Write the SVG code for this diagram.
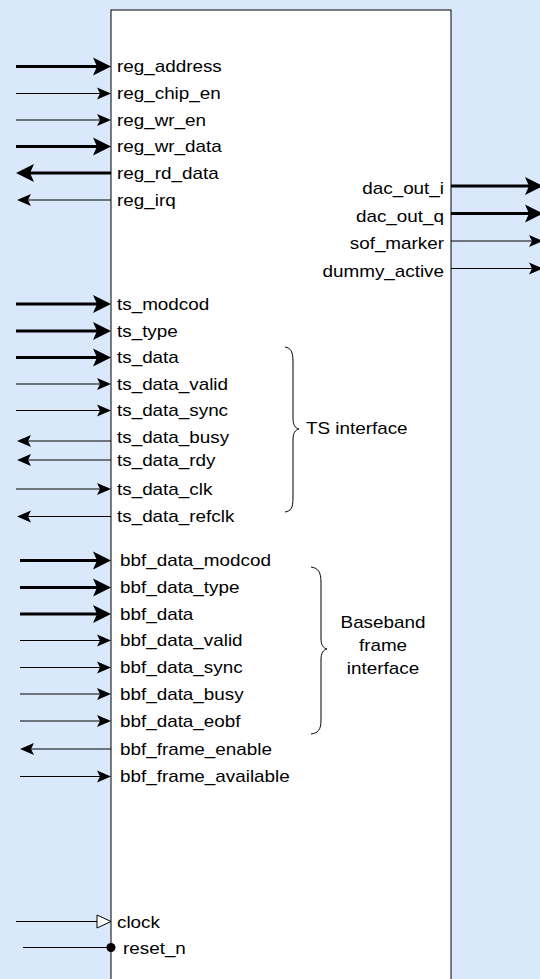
<svg xmlns="http://www.w3.org/2000/svg" width="540" height="979" viewBox="0 0 540 979">
<style>
text{font-family:"Liberation Sans",Arial,sans-serif;font-size:16.4px;fill:#000}
.r{text-anchor:end}
.m{text-anchor:middle}
.thick{stroke:#000;stroke-width:3;fill:none}
.thin{stroke:#000;stroke-width:1;fill:none}
.brace{stroke:#000;stroke-width:1;fill:none}
</style>
<defs>
<marker id="big" markerUnits="userSpaceOnUse" viewBox="-6 -10 22 20" refX="0" refY="0" markerWidth="22" markerHeight="20" orient="auto" overflow="visible">
<path d="M14,0 L-4,-9 L0,0 L-4,9 Z" fill="#000"/>
</marker>
<marker id="small" markerUnits="userSpaceOnUse" viewBox="-6 -8 18 16" refX="0" refY="0" markerWidth="18" markerHeight="16" orient="auto" overflow="visible">
<path d="M11,0 L-3,-6 L0,0 L-3,6 Z" fill="#000"/>
</marker>
</defs>
<rect x="0" y="0" width="540" height="979" fill="#dae8fc"/>
<g id="block">
<rect x="111" y="10" width="340" height="990" fill="#fff" stroke="#000" stroke-width="1"/>
<g id="labels-left">
<text transform="translate(117,72) scale(1.15,1)">reg_address</text>
<text transform="translate(117,99) scale(1.15,1)">reg_chip_en</text>
<text transform="translate(117,125.5) scale(1.15,1)">reg_wr_en</text>
<text transform="translate(117,152) scale(1.15,1)">reg_wr_data</text>
<text transform="translate(117,178.5) scale(1.15,1)">reg_rd_data</text>
<text transform="translate(117,205.5) scale(1.15,1)">reg_irq</text>
<text transform="translate(117,309.5) scale(1.15,1)">ts_modcod</text>
<text transform="translate(117,336.5) scale(1.15,1)">ts_type</text>
<text transform="translate(117,363) scale(1.15,1)">ts_data</text>
<text transform="translate(117,389.5) scale(1.15,1)">ts_data_valid</text>
<text transform="translate(117,416) scale(1.15,1)">ts_data_sync</text>
<text transform="translate(117,443) scale(1.15,1)">ts_data_busy</text>
<text transform="translate(117,465.5) scale(1.15,1)">ts_data_rdy</text>
<text transform="translate(117,494.5) scale(1.15,1)">ts_data_clk</text>
<text transform="translate(117,522) scale(1.15,1)">ts_data_refclk</text>
<text transform="translate(120,566) scale(1.15,1)">bbf_data_modcod</text>
<text transform="translate(120,593) scale(1.15,1)">bbf_data_type</text>
<text transform="translate(120,619.5) scale(1.15,1)">bbf_data</text>
<text transform="translate(120,646) scale(1.15,1)">bbf_data_valid</text>
<text transform="translate(120,673) scale(1.15,1)">bbf_data_sync</text>
<text transform="translate(120,699.5) scale(1.15,1)">bbf_data_busy</text>
<text transform="translate(120,726.5) scale(1.15,1)">bbf_data_eobf</text>
<text transform="translate(120,754.5) scale(1.15,1)">bbf_frame_enable</text>
<text transform="translate(120,782) scale(1.15,1)">bbf_frame_available</text>
<text transform="translate(117,928) scale(1.15,1)">clock</text>
<text transform="translate(123,954) scale(1.15,1)">reset_n</text>
</g>
<g id="labels-right">
<text class="r" transform="translate(444,194) scale(1.15,1)">dac_out_i</text>
<text class="r" transform="translate(444,221.5) scale(1.15,1)">dac_out_q</text>
<text class="r" transform="translate(444,249) scale(1.15,1)">sof_marker</text>
<text class="r" transform="translate(444,276.5) scale(1.15,1)">dummy_active</text>
</g>
</g>
<g id="connectors">
<line class="thick" x1="16" y1="66.5" x2="97" y2="66.5" marker-end="url(#big)"/>
<line class="thin" x1="16" y1="93.5" x2="100" y2="93.5" marker-end="url(#small)"/>
<line class="thin" x1="16" y1="120" x2="100" y2="120" marker-end="url(#small)"/>
<line class="thick" x1="16" y1="146.5" x2="97" y2="146.5" marker-end="url(#big)"/>
<line class="thick" x1="111" y1="173" x2="30" y2="173" marker-end="url(#big)"/>
<line class="thin" x1="111" y1="200" x2="28" y2="200" marker-end="url(#small)"/>
<line class="thick" x1="451" y1="186" x2="529" y2="186" marker-end="url(#big)"/>
<line class="thick" x1="451" y1="213.5" x2="529" y2="213.5" marker-end="url(#big)"/>
<line class="thin" x1="451" y1="241" x2="532" y2="241" marker-end="url(#small)"/>
<line class="thin" x1="451" y1="268.5" x2="532" y2="268.5" marker-end="url(#small)"/>
<line class="thick" x1="16" y1="304" x2="97" y2="304" marker-end="url(#big)"/>
<line class="thick" x1="16" y1="331" x2="97" y2="331" marker-end="url(#big)"/>
<line class="thick" x1="16" y1="357.5" x2="97" y2="357.5" marker-end="url(#big)"/>
<line class="thin" x1="16" y1="384" x2="100" y2="384" marker-end="url(#small)"/>
<line class="thin" x1="16" y1="410.5" x2="100" y2="410.5" marker-end="url(#small)"/>
<line class="thin" x1="111" y1="441" x2="28" y2="441" marker-end="url(#small)"/>
<line class="thin" x1="111" y1="460" x2="28" y2="460" marker-end="url(#small)"/>
<line class="thin" x1="16" y1="489" x2="100" y2="489" marker-end="url(#small)"/>
<line class="thin" x1="111" y1="516.5" x2="28" y2="516.5" marker-end="url(#small)"/>
<line class="thick" x1="20" y1="560.5" x2="97" y2="560.5" marker-end="url(#big)"/>
<line class="thick" x1="20" y1="587.5" x2="97" y2="587.5" marker-end="url(#big)"/>
<line class="thick" x1="20" y1="614" x2="97" y2="614" marker-end="url(#big)"/>
<line class="thin" x1="20" y1="640.5" x2="100" y2="640.5" marker-end="url(#small)"/>
<line class="thin" x1="20" y1="667.5" x2="100" y2="667.5" marker-end="url(#small)"/>
<line class="thin" x1="20" y1="694" x2="100" y2="694" marker-end="url(#small)"/>
<line class="thin" x1="20" y1="721" x2="100" y2="721" marker-end="url(#small)"/>
<line class="thin" x1="111" y1="749" x2="31" y2="749" marker-end="url(#small)"/>
<line class="thin" x1="20" y1="776.5" x2="100" y2="776.5" marker-end="url(#small)"/>
<line class="thin" x1="16" y1="921.5" x2="97" y2="921.5"/>
<polygon points="97,915 111,921.5 97,928" fill="#fff" stroke="#000" stroke-width="1"/>
<line class="thin" x1="23" y1="947.5" x2="111" y2="947.5"/>
<circle cx="111" cy="947.5" r="4.5" fill="#000"/>
</g>
<g id="ts-group">
<path class="brace" d="M285,347 C291,348 293,352 293,362 L293,418 C293,425 295,428 299,429 C295,430 293,433 293,440 L293,498 C293,508 291,511 285,512"/>
<text transform="translate(306,433.5) scale(1.15,1)">TS interface</text>
</g>
<g id="bbf-group">
<path class="brace" d="M311,567 C318,568 321,572 321,582 L321,638 C321,645 323,648 327,649 C323,650 321,653 321,660 L321,720 C321,730 318,733 311,734"/>
<text class="m" transform="translate(383,628) scale(1.15,1)">Baseband</text>
<text class="m" transform="translate(383,651) scale(1.15,1)">frame</text>
<text class="m" transform="translate(383,673.5) scale(1.15,1)">interface</text>
</g>
</svg>
